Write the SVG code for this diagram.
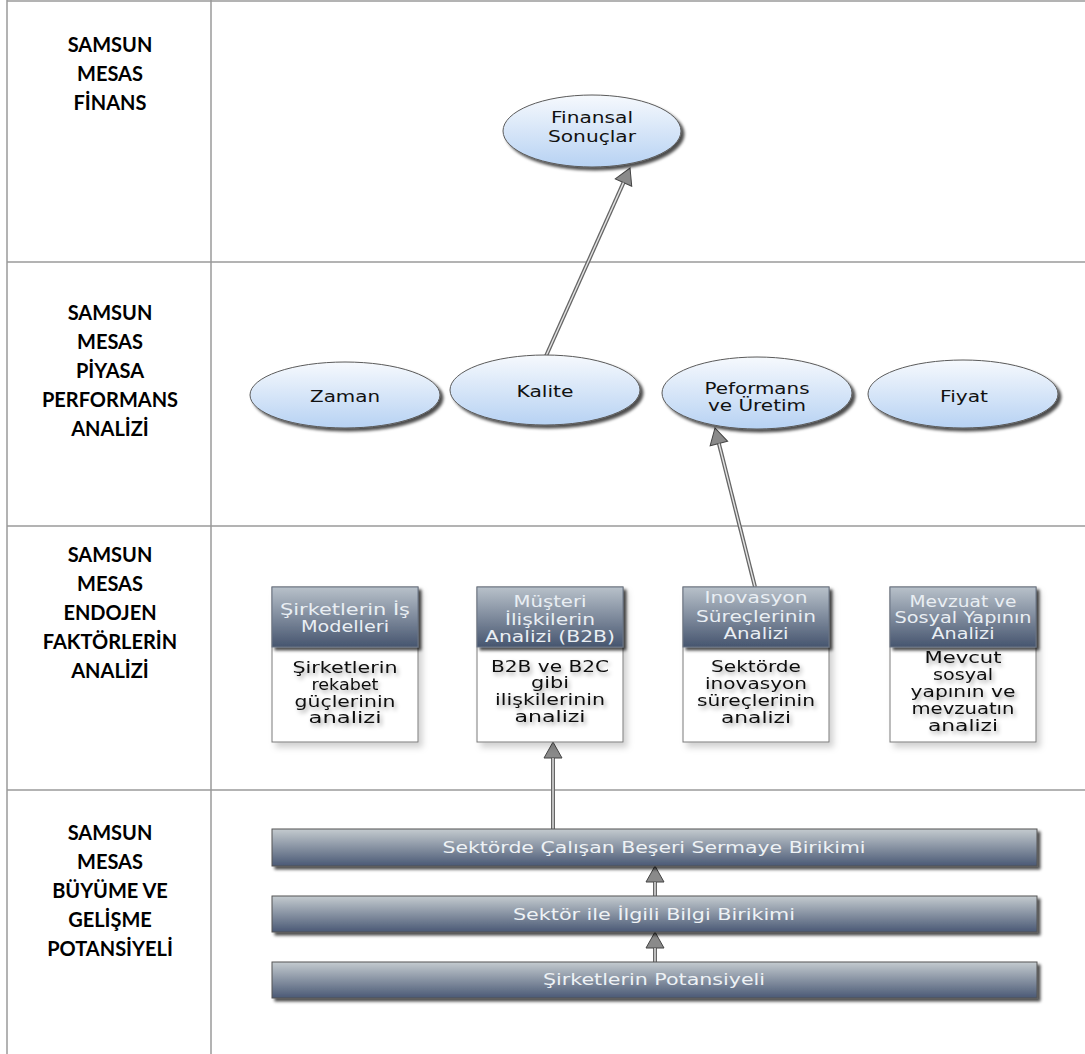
<svg xmlns="http://www.w3.org/2000/svg" width="1085" height="1054" viewBox="0 0 1085 1054">
<style>
.grid{stroke:#9a9a9a;stroke-width:1.5;fill:none}
.lbl{font-family:Lato,"Liberation Sans",sans-serif;font-weight:bold;font-size:20px;fill:#000;text-anchor:middle}
.ell{fill:url(#gEll);stroke:#5a5a5a;stroke-width:1;filter:url(#fDark)}
.et{font-family:"DejaVu Sans",Verdana,sans-serif;font-size:16px;fill:#111;text-anchor:middle}
.hdr{fill:url(#gHdr);stroke:#6a7484;stroke-width:1;filter:url(#fDark)}
.body{fill:#fff;stroke:#7a7a7a;stroke-width:1;filter:url(#fSoft)}
.ht{font-family:"DejaVu Sans",Verdana,sans-serif;font-size:15px;fill:#e9eef3;text-anchor:middle}
.bt{font-family:"DejaVu Sans",Verdana,sans-serif;font-size:15px;fill:#111;text-anchor:middle;filter:url(#fTxt)}
.bar{fill:url(#gBar);stroke:#555;stroke-width:1;filter:url(#fDark)}
.bart{font-family:"DejaVu Sans",Verdana,sans-serif;font-size:16px;fill:#eef2f5;text-anchor:middle}
.cOut{stroke:#666;stroke-width:4;fill:none}
.cIn{stroke:#e4e4e4;stroke-width:1.4;fill:none}
</style>
<defs>
<linearGradient id="gEll" x1="0" y1="0" x2="0" y2="1"><stop offset="0" stop-color="#f6f9fd"/><stop offset="1" stop-color="#b7d2f3"/></linearGradient>
<linearGradient id="gHdr" x1="0" y1="0" x2="0" y2="1"><stop offset="0" stop-color="#b8c1ca"/><stop offset="1" stop-color="#46556f"/></linearGradient>
<linearGradient id="gBar" x1="0" y1="0" x2="0" y2="1"><stop offset="0" stop-color="#c4cbcf"/><stop offset="1" stop-color="#4a5975"/></linearGradient>
<filter id="fDark" x="-10%" y="-20%" width="130%" height="150%"><feDropShadow dx="3" dy="3" stdDeviation="1.8" flood-color="#000" flood-opacity="0.7"/></filter>
<filter id="fSoft" x="-10%" y="-10%" width="130%" height="130%"><feDropShadow dx="4" dy="5" stdDeviation="3" flood-color="#000" flood-opacity="0.18"/></filter>
<filter id="fTxt" x="-20%" y="-50%" width="140%" height="220%"><feGaussianBlur in="SourceAlpha" stdDeviation="2.2" result="b"/><feOffset in="b" dx="2" dy="3" result="o"/><feFlood flood-color="#000" flood-opacity="0.35"/><feComposite in2="o" operator="in" result="s"/><feMerge><feMergeNode in="s"/><feMergeNode in="SourceGraphic"/></feMerge></filter>
<marker id="ah" markerUnits="userSpaceOnUse" markerWidth="18" markerHeight="20" viewBox="-1 -1 18 20" refX="0" refY="9" orient="auto"><path d="M0,0 L16,9 L0,18 Z" fill="#8a8a8a" stroke="#444" stroke-width="1"/></marker>
</defs>
<rect width="1085" height="1054" fill="#fff"/>
<g id="table">
<line class="grid" x1="7" y1="1" x2="1085" y2="1"/>
<line class="grid" x1="7" y1="262" x2="1085" y2="262"/>
<line class="grid" x1="7" y1="526" x2="1085" y2="526"/>
<line class="grid" x1="7" y1="790" x2="1085" y2="790"/>
<line class="grid" x1="7" y1="0" x2="7" y2="1054"/>
<line class="grid" x1="211" y1="0" x2="211" y2="1054"/>
</g>
<g id="row-labels">
<g id="lbl-finans"><text class="lbl" x="110" y="52">SAMSUN</text><text class="lbl" x="110" y="81">MESAS</text><text class="lbl" x="110" y="110">FİNANS</text></g>
<g id="lbl-piyasa"><text class="lbl" x="110" y="320">SAMSUN</text><text class="lbl" x="110" y="349">MESAS</text><text class="lbl" x="110" y="378">PİYASA</text><text class="lbl" x="110" y="407">PERFORMANS</text><text class="lbl" x="110" y="436">ANALİZİ</text></g>
<g id="lbl-endojen"><text class="lbl" x="110" y="562">SAMSUN</text><text class="lbl" x="110" y="591">MESAS</text><text class="lbl" x="110" y="620">ENDOJEN</text><text class="lbl" x="110" y="649">FAKTÖRLERİN</text><text class="lbl" x="110" y="678">ANALİZİ</text></g>
<g id="lbl-buyume"><text class="lbl" x="110" y="840">SAMSUN</text><text class="lbl" x="110" y="869">MESAS</text><text class="lbl" x="110" y="898">BÜYÜME VE</text><text class="lbl" x="110" y="927">GELİŞME</text><text class="lbl" x="110" y="956">POTANSİYELİ</text></g>
</g>
<g id="connectors">
<path class="cOut" d="M546,356 L623.5,182.6" marker-end="url(#ah)"/><path class="cIn" d="M546,356 L623.5,182.6"/>
<path class="cOut" d="M755,587 L718.9,443.5" marker-end="url(#ah)"/><path class="cIn" d="M755,587 L718.9,443.5"/>
<path class="cOut" d="M553,829 L553,758" marker-end="url(#ah)"/><path class="cIn" d="M553,829 L553,758"/>
<path class="cOut" d="M655,896 L655,882" marker-end="url(#ah)"/><path class="cIn" d="M655,896 L655,882"/>
<path class="cOut" d="M655,962 L655,948" marker-end="url(#ah)"/><path class="cIn" d="M655,962 L655,948"/>
</g>
<g id="n-finansal"><ellipse class="ell" cx="592" cy="131" rx="89" ry="36"/><text class="et" x="592" y="123" textLength="82" lengthAdjust="spacingAndGlyphs">Finansal</text><text class="et" x="592" y="142" textLength="88" lengthAdjust="spacingAndGlyphs">Sonuçlar</text></g>
<g id="n-zaman"><ellipse class="ell" cx="345" cy="395" rx="95" ry="33"/><text class="et" x="345" y="402" textLength="70" lengthAdjust="spacingAndGlyphs">Zaman</text></g>
<g id="n-kalite"><ellipse class="ell" cx="545" cy="390" rx="95" ry="35"/><text class="et" x="545" y="397" textLength="57" lengthAdjust="spacingAndGlyphs">Kalite</text></g>
<g id="n-peformans"><ellipse class="ell" cx="757" cy="393" rx="95" ry="36"/><text class="et" x="757" y="394" textLength="105" lengthAdjust="spacingAndGlyphs">Peformans</text><text class="et" x="757" y="411" textLength="98" lengthAdjust="spacingAndGlyphs">ve Üretim</text></g>
<g id="n-fiyat"><ellipse class="ell" cx="963" cy="394" rx="95" ry="34"/><text class="et" x="964" y="402" textLength="48" lengthAdjust="spacingAndGlyphs">Fiyat</text></g>
<g id="n-ismodelleri">
<rect class="body" x="272" y="587" width="146" height="155"/><rect class="hdr" x="272" y="587" width="146" height="60"/>
<text class="ht" x="345" y="615" textLength="130" lengthAdjust="spacingAndGlyphs">Şirketlerin İş</text><text class="ht" x="345" y="632" textLength="88" lengthAdjust="spacingAndGlyphs">Modelleri</text>
<text class="bt" x="345" y="673" textLength="105" lengthAdjust="spacingAndGlyphs">Şirketlerin</text><text class="bt" x="345" y="690" textLength="67" lengthAdjust="spacingAndGlyphs">rekabet</text><text class="bt" x="345" y="707" textLength="101" lengthAdjust="spacingAndGlyphs">güçlerinin</text><text class="bt" x="345" y="723" textLength="73" lengthAdjust="spacingAndGlyphs">analizi</text>
</g>
<g id="n-musteri">
<rect class="body" x="477" y="587" width="146" height="155"/><rect class="hdr" x="477" y="587" width="146" height="60"/>
<text class="ht" x="550" y="607" textLength="73" lengthAdjust="spacingAndGlyphs">Müşteri</text><text class="ht" x="550" y="625" textLength="90" lengthAdjust="spacingAndGlyphs">İlişkilerin</text><text class="ht" x="550" y="642" textLength="130" lengthAdjust="spacingAndGlyphs">Analizi (B2B)</text>
<text class="bt" x="550" y="672" textLength="118" lengthAdjust="spacingAndGlyphs">B2B ve B2C</text><text class="bt" x="550" y="688" textLength="38" lengthAdjust="spacingAndGlyphs">gibi</text><text class="bt" x="550" y="705" textLength="110" lengthAdjust="spacingAndGlyphs">ilişkilerinin</text><text class="bt" x="550" y="722" textLength="71" lengthAdjust="spacingAndGlyphs">analizi</text>
</g>
<g id="n-inovasyon">
<rect class="body" x="683" y="587" width="146" height="155"/><rect class="hdr" x="683" y="587" width="146" height="60"/>
<text class="ht" x="756" y="603" textLength="103" lengthAdjust="spacingAndGlyphs">Inovasyon</text><text class="ht" x="756" y="622" textLength="120" lengthAdjust="spacingAndGlyphs">Süreçlerinin</text><text class="ht" x="756" y="639" textLength="65" lengthAdjust="spacingAndGlyphs">Analizi</text>
<text class="bt" x="756" y="672" textLength="90" lengthAdjust="spacingAndGlyphs">Sektörde</text><text class="bt" x="756" y="689" textLength="102" lengthAdjust="spacingAndGlyphs">inovasyon</text><text class="bt" x="756" y="706" textLength="118" lengthAdjust="spacingAndGlyphs">süreçlerinin</text><text class="bt" x="756" y="723" textLength="70" lengthAdjust="spacingAndGlyphs">analizi</text>
</g>
<g id="n-mevzuat">
<rect class="body" x="890" y="587" width="146" height="155"/><rect class="hdr" x="890" y="587" width="146" height="60"/>
<text class="ht" x="963" y="607" textLength="107" lengthAdjust="spacingAndGlyphs">Mevzuat ve</text><text class="ht" x="963" y="623" textLength="137" lengthAdjust="spacingAndGlyphs">Sosyal Yapının</text><text class="ht" x="963" y="639" textLength="63" lengthAdjust="spacingAndGlyphs">Analizi</text>
<text class="bt" x="963" y="663" textLength="77" lengthAdjust="spacingAndGlyphs">Mevcut</text><text class="bt" x="963" y="680" textLength="60" lengthAdjust="spacingAndGlyphs">sosyal</text><text class="bt" x="963" y="697" textLength="105" lengthAdjust="spacingAndGlyphs">yapının ve</text><text class="bt" x="963" y="714" textLength="103" lengthAdjust="spacingAndGlyphs">mevzuatın</text><text class="bt" x="963" y="731" textLength="70" lengthAdjust="spacingAndGlyphs">analizi</text>
</g>
<g id="n-beseri"><rect class="bar" x="272" y="829" width="765" height="37"/><text class="bart" x="654" y="853" textLength="423" lengthAdjust="spacingAndGlyphs">Sektörde Çalışan Beşeri Sermaye Birikimi</text></g>
<g id="n-bilgi"><rect class="bar" x="272" y="896" width="765" height="36"/><text class="bart" x="654" y="920" textLength="282" lengthAdjust="spacingAndGlyphs">Sektör ile İlgili Bilgi Birikimi</text></g>
<g id="n-potansiyel"><rect class="bar" x="272" y="962" width="765" height="36"/><text class="bart" x="654" y="985" textLength="222" lengthAdjust="spacingAndGlyphs">Şirketlerin Potansiyeli</text></g>
</svg>
